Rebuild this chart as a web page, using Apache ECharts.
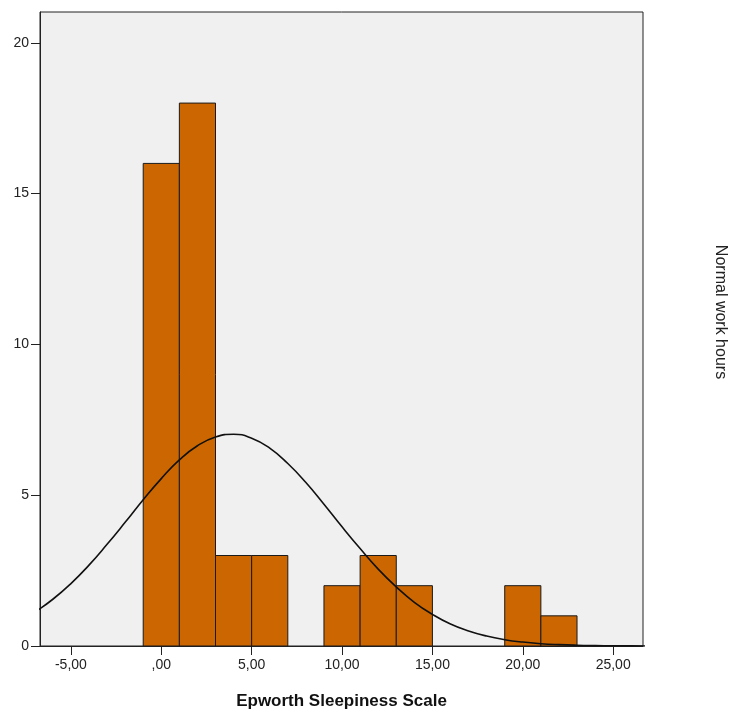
<!DOCTYPE html>
<html>
<head>
<meta charset="utf-8">
<script src="https://cdn.jsdelivr.net/npm/echarts@6/dist/echarts.min.js"></script>
<style>html,body{margin:0;padding:0;background:#fff;}#c{width:730px;height:715px;}</style>
</head>
<body>
<div id="c"></div>
<script>
// Histogram bins (left edges), counts
const binStarts = [-1, 1, 3, 5, 9, 11, 13, 19, 21];
const counts    = [16, 18, 3, 3, 2, 3, 2, 2, 1];
const binWidth = 2;
// Normal curve
const curveX = [-7,-6,-5,-4,-3,-2,-1,0,1,2,3,4,5,6,7,8,9,10,11,12,13,14,15,16,17,18,19,20,21,22,23,24,25,26,27];
const curveY = [1.12,1.55,2.07,2.68,3.37,4.10,4.85,5.55,6.17,6.64,6.93,7.02,6.89,6.56,6.05,5.42,4.70,3.95,3.23,2.55,1.96,1.45,1.05,0.73,0.50,0.33,0.21,0.13,0.077,0.045,0.025,0.014,0.007,0.004,0.002];
const xTicks = [-5, 0, 5, 10, 15, 20, 25];
const yTicks = [0, 5, 10, 15, 20];
const xTitle = 'Epworth Sleepiness Scale';
const sideTitle = 'Normal work hours';

function fmt(v){
  let s = Math.abs(v).toFixed(2).replace('.', ',');
  if (s.startsWith('0,')) s = s.substring(1);
  return (v < 0 ? '-' : '') + s;
}

const chart = echarts.init(document.getElementById('c'), null, {renderer:'canvas'});
const font = 'Liberation Sans, Arial, sans-serif';
chart.setOption({
  animation: false,
  backgroundColor: '#ffffff',
  grid: {left: 40, top: 12, right: 87, bottom: 67, show: true, backgroundColor: '#f0f0f0', borderColor: '#222', borderWidth: 1},
  xAxis: {
    type: 'value', min: -6.71, max: 26.65,
    name: xTitle, nameLocation: 'middle', nameGap: 47,
    nameTextStyle: {fontFamily: font, fontWeight: 'bold', fontSize: 17, color: '#111'},
    axisLine: {show: true, onZero: false, lineStyle: {color: '#222', width: 1}},
    axisTick: {show: true, length: 9, lineStyle: {color: '#222'}, customValues: xTicks},
    axisLabel: {show: true, customValues: xTicks, formatter: fmt, fontFamily: font, fontSize: 14, color: '#222', margin: 12},
    splitLine: {show: false}
  },
  yAxis: {
    type: 'value', min: 0, max: 21.02,
    axisLine: {show: true, onZero: false, lineStyle: {color: '#222', width: 1}},
    axisTick: {show: true, length: 9, lineStyle: {color: '#222'}, customValues: yTicks},
    axisLabel: {show: true, customValues: yTicks, fontFamily: font, fontSize: 14, color: '#222', margin: 11},
    splitLine: {show: false}
  },
  graphic: [{
    type: 'text', x: 720, y: 312, rotation: -Math.PI/2,
    style: {text: sideTitle, textAlign: 'center', textVerticalAlign: 'middle', font: '16px ' + font, fill: '#222'}
  }],
  series: [{
    type: 'custom',
    data: binStarts.map((s, i) => [s, s + binWidth, counts[i]]),
    renderItem: function(params, api){
      const p0 = api.coord([api.value(0), 0]);
      const p1 = api.coord([api.value(1), api.value(2)]);
      return {type: 'rect', shape: {x: p0[0], y: p1[1], width: p1[0]-p0[0], height: p0[1]-p1[1]},
        style: {fill: '#cc6600', stroke: '#1a1a1a', lineWidth: 1}};
    },
    z: 2
  }, {
    type: 'line', smooth: true, showSymbol: false, symbol: 'none',
    data: curveX.map((x, i) => [x, curveY[i]]),
    lineStyle: {color: '#111', width: 1.6},
    clip: true, z: 3
  }]
});
</script>
</body>
</html>
